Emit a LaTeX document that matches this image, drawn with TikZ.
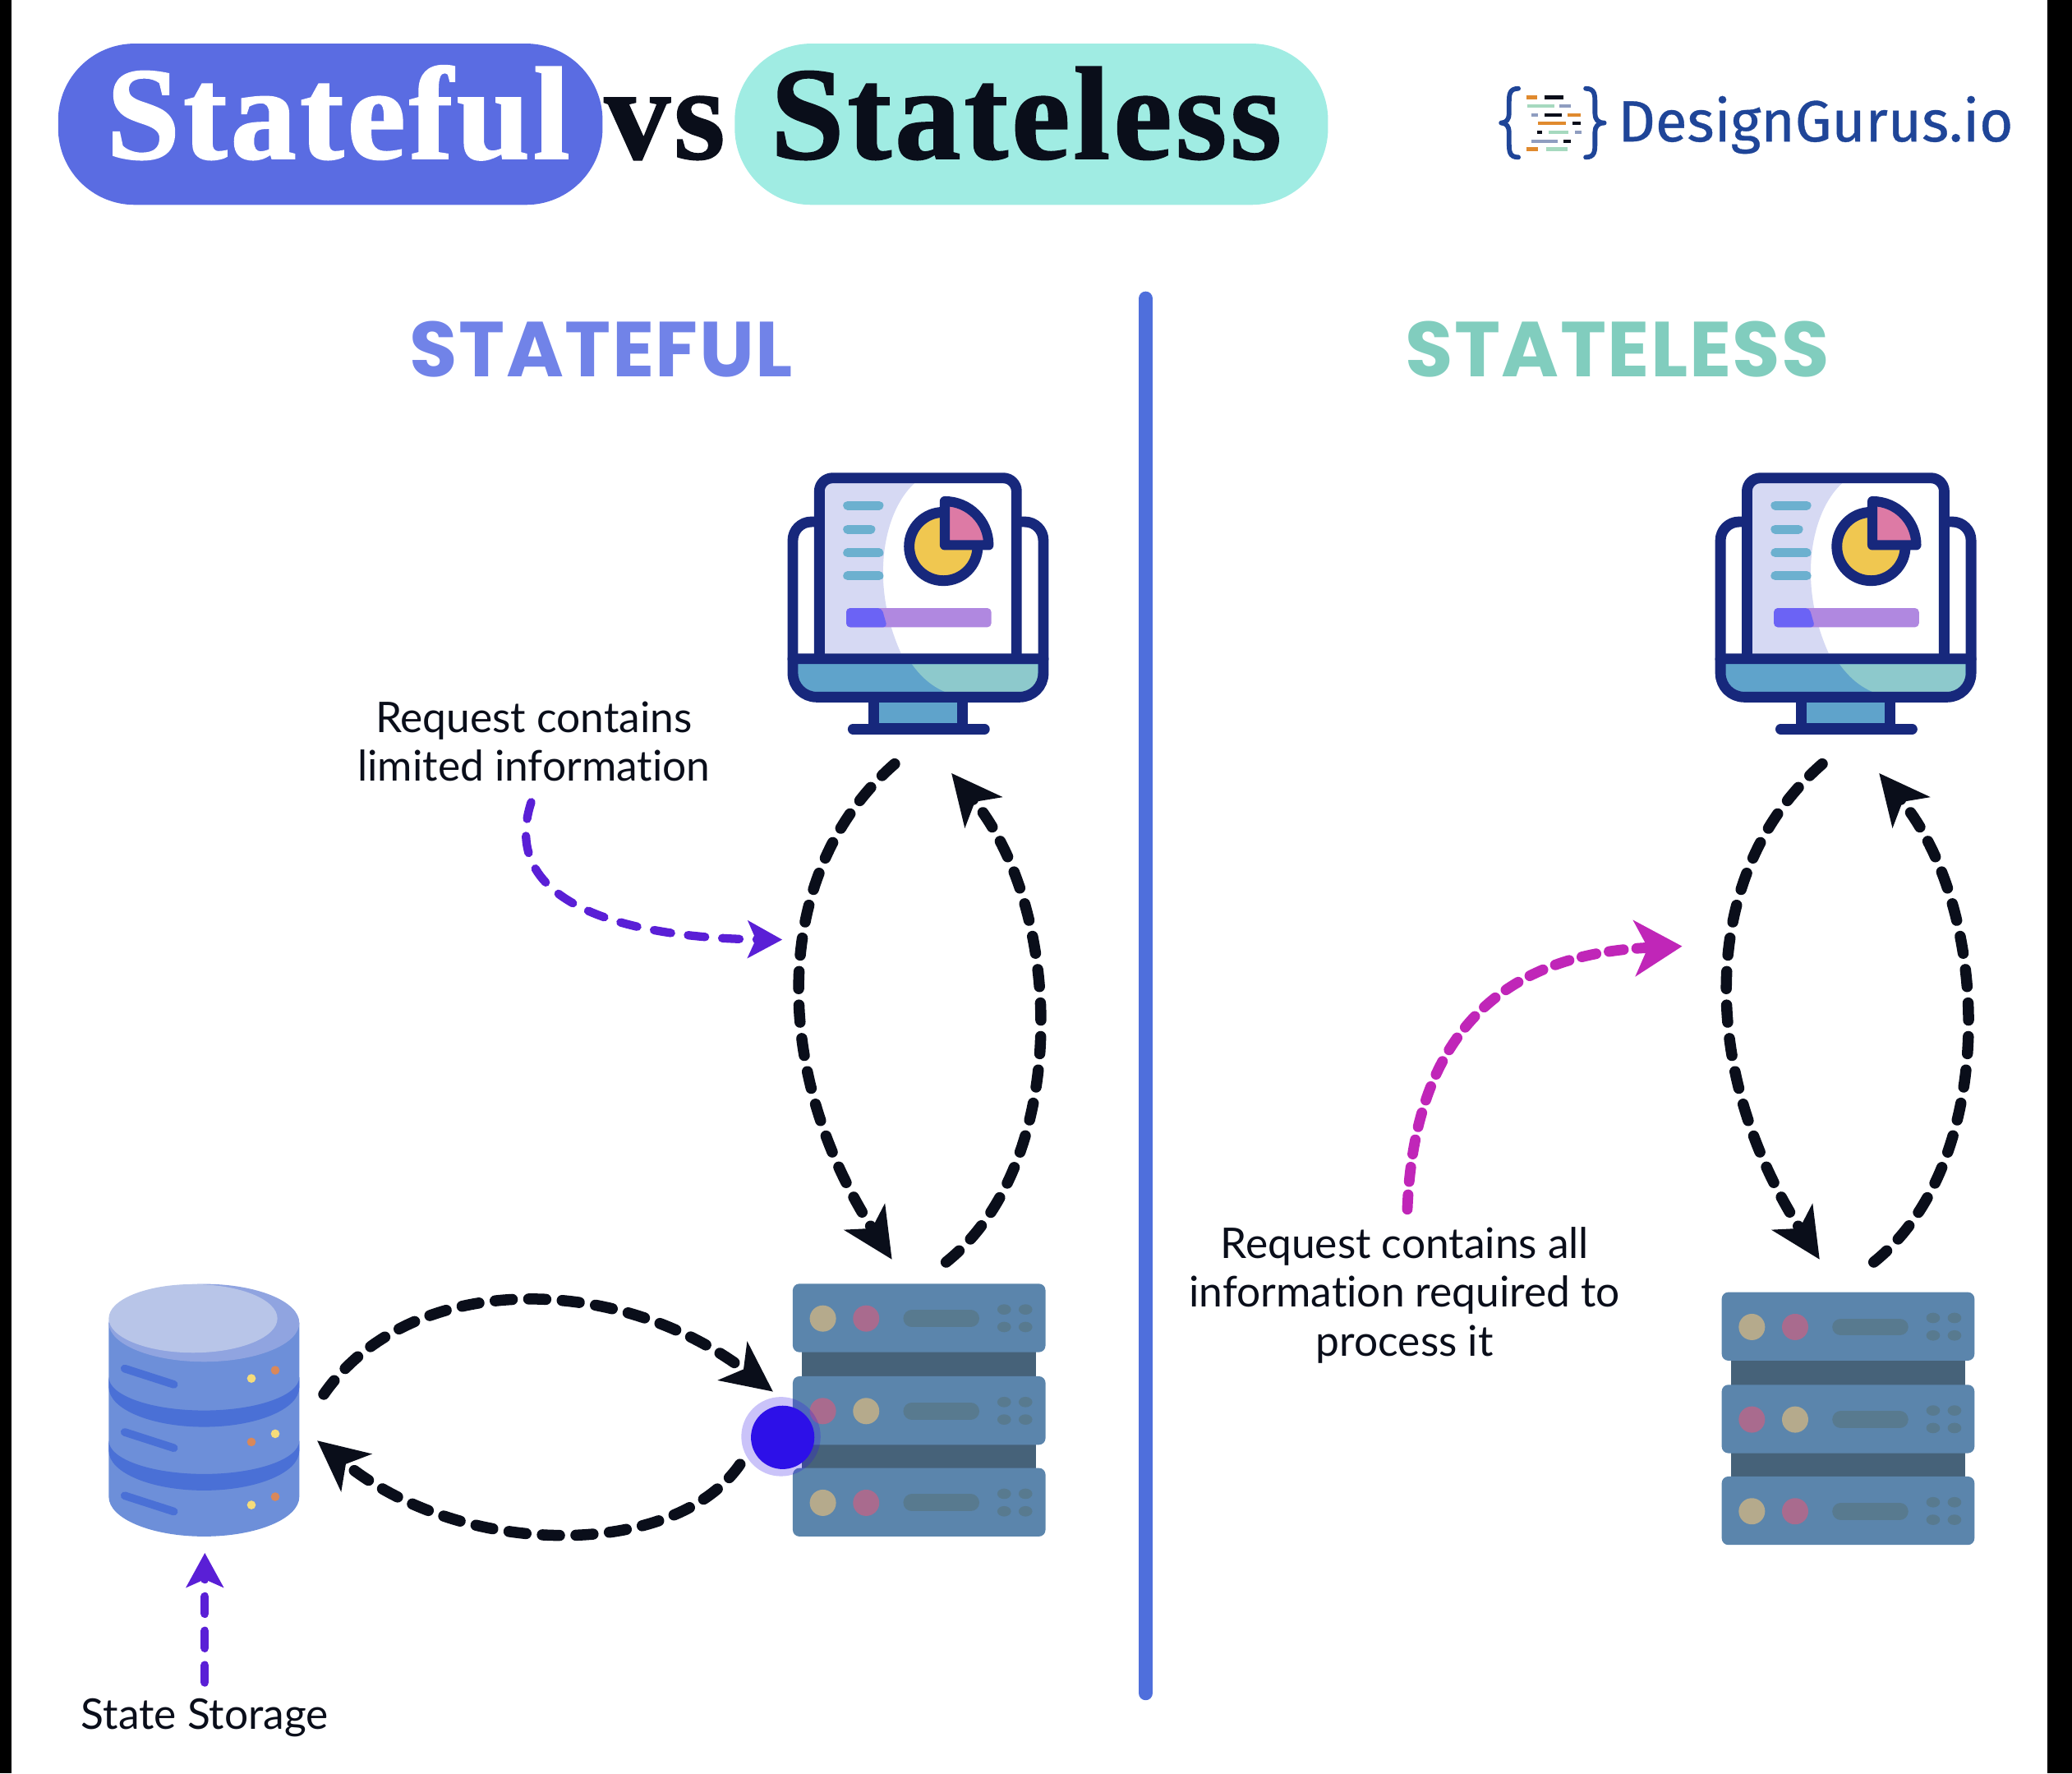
\documentclass[tikz,border=0pt]{standalone}
\usepackage{fontspec}
\usetikzlibrary{positioning,arrows.meta}
\setmainfont[Ligatures=NoCommon]{Lato}
\newfontfamily\titlefont[FakeBold=1.2,LetterSpace=2.5]{Liberation Serif}
\newfontfamily\headfont[LetterSpace=1.5]{Poppins}
\newfontfamily\logofont[FakeBold=0.5]{Fira Sans}

\definecolor{pillblue}{HTML}{5A6CE2}
\definecolor{pillteal}{HTML}{A0ECE3}
\definecolor{inkblack}{HTML}{0A0E1A}
\definecolor{headblue}{HTML}{7183E8}
\definecolor{headteal}{HTML}{81CDBE}
\definecolor{dividerblue}{HTML}{4F6FDC}
\definecolor{logoblue}{HTML}{1F4598}
\definecolor{lognavy}{HTML}{17287C}
\definecolor{screenlav}{HTML}{D6D9F3}
\definecolor{basesky}{HTML}{5FA3CB}
\definecolor{baseteal}{HTML}{8DC9CC}
\definecolor{listsky}{HTML}{6CB0CF}
\definecolor{pieyellow}{HTML}{F0C750}
\definecolor{piepink}{HTML}{DD7AA5}
\definecolor{barviolet}{HTML}{6B63F5}
\definecolor{barlilac}{HTML}{B088E0}
\definecolor{rackblue}{HTML}{5B85AC}
\definecolor{rackdark}{HTML}{466279}
\definecolor{racktan}{HTML}{B5AA8C}
\definecolor{rackpink}{HTML}{A96B8E}
\definecolor{rackslot}{HTML}{587A8F}
\definecolor{dbbody}{HTML}{6D8FD9}
\definecolor{dbband}{HTML}{4A70D6}
\definecolor{dbtop}{HTML}{B8C5E8}
\definecolor{dbrim}{HTML}{90A4E0}
\definecolor{dbyellow}{HTML}{F5DC7A}
\definecolor{dborange}{HTML}{D9885A}
\definecolor{notepurple}{HTML}{5A1FD6}
\definecolor{notemagenta}{HTML}{C026B8}
\definecolor{dotblue}{HTML}{2D10E8}
\definecolor{codeorange}{HTML}{E08A2E}
\definecolor{codegreen}{HTML}{A6D9BF}
\definecolor{codeslate}{HTML}{8F9DC0}

\tikzset{
    pill/.style={rounded corners=29pt, inner sep=0pt, minimum height=61pt, text height=33pt, text depth=7pt, font=\titlefont\bfseries\fontsize{50}{50}\selectfont},
    heading/.style={font=\headfont\bfseries\fontsize{29.5}{29.5}\selectfont},
    note/.style={align=center, text=inkblack, font=\fontsize{16}{18.5}\selectfont},
    flow/.style={inkblack, line width=4.2pt, line cap=round, dash pattern=on 6.5pt off 6.2pt, -{Stealth[length=19pt,width=18pt,inset=5pt]}},
    hintline/.style={notepurple, line width=3.2pt, line cap=round, dash pattern=on 6.5pt off 6.5pt, -{Stealth[length=13pt,width=14pt,inset=3pt]}},
    hintbold/.style={notemagenta, line width=4pt, line cap=round, dash pattern=on 5.5pt off 5pt, -{Stealth[length=18pt,width=21pt,inset=5pt]}},
    pics/monitor/.style={code={
        \begin{scope}[scale=0.2072, line join=round]
            % Side arms
            \draw[lognavy, line width=4pt, rounded corners=7pt] (222,255) -- (135,255) -- (135,760);
            \draw[lognavy, line width=4pt, rounded corners=7pt] (962,255) -- (1050,255) -- (1050,760);
            % Screen
            \fill[white, rounded corners=5pt] (232,95) rectangle (952,755);
            \fill[screenlav] (240,105) -- (590,105) .. controls (470,200) and (410,470) .. (530,735) -- (240,735) -- cycle;
            \foreach \w/\y in {465/195, 435/282, 465/368, 465/452}
                \draw[listsky, line width=3.4pt, line cap=round] (335,\y) -- (\w-15,\y);
            \fill[barlilac, rounded corners=1.5pt] (330,570) rectangle (860,640);
            \fill[barviolet, rounded corners=1.5pt] (330,570) -- (460,570) -- (480,640) -- (330,640) -- cycle;
            \draw[lognavy, line width=4pt, rounded corners=5pt] (232,755) -- (232,95) -- (952,95) -- (952,755);
            % Pie chart
            \draw[lognavy, line width=4pt, fill=pieyellow] (685,345) circle (125);
            \draw[lognavy, line width=3.8pt, fill=piepink] (690,340) -- (690,180) arc[start angle=-90, end angle=0, radius=160] -- cycle;
            % Base
            \fill[basesky, rounded corners=9pt] (135,755) -- (135,895) -- (1050,895) [sharp corners] -- (1050,755) -- cycle;
            \fill[baseteal] (570,775) .. controls (610,830) and (650,860) .. (700,880) -- (1030,880) -- (1030,775) -- cycle;
            \draw[lognavy, line width=4pt, rounded corners=9pt] (135,755) -- (135,895) -- (1050,895) [sharp corners] -- (1050,755) -- cycle;
            % Stand
            \draw[lognavy, line width=4pt, fill=basesky] (430,895) rectangle (755,1010);
            \draw[lognavy, line width=4pt, line cap=round] (355,1012) -- (835,1012);
        \end{scope}
    }},
    pics/rack/.style={code={
        \begin{scope}[scale=0.2072]
            % Links between the units
            \fill[rackdark] (288,430) rectangle (1143,530);
            \fill[rackdark] (288,770) rectangle (1143,865);
            % Units
            \foreach \y/\ca/\cb in {187/racktan/rackpink, 525/rackpink/racktan, 860/racktan/rackpink} {
                \fill[rackblue, rounded corners=2.5pt] (255,\y) rectangle (1178,\y+250);
                \fill[\ca] (365,\y+127) circle (48);
                \fill[\cb] (523,\y+127) circle (48);
                \draw[rackslot, line width=6.5pt, line cap=round] (690,\y+127) -- (905,\y+127);
                \foreach \x in {1027,1105}
                    \foreach \dy in {94,158}
                        \fill[rackslot] (\x,\y+\dy) ellipse[x radius=25, y radius=19];
            }
        \end{scope}
    }},
    pics/database/.style={code={
        \begin{scope}[scale=0.2072]
            % Drum
            \fill[dbbody] (97,270) -- (97,905) arc[start angle=180, end angle=0, x radius=348, y radius=145] -- (793,270) -- cycle;
            % Rims and tags
            \foreach \dy in {0,232} {
                \fill[dbband] (97,468+\dy) arc[start angle=180, end angle=0, x radius=348, y radius=122] -- (793,505+\dy) arc[start angle=0, end angle=180, x radius=348, y radius=145] -- cycle;
            }
            \foreach \dy in {0,232,464}
                \draw[dbband, line width=3pt, line cap=round] (155,437+\dy) -- (335,495+\dy);
            % Lights
            \foreach \x/\y/\c in {618/473/dbyellow, 705/443/dborange, 618/705/dborange, 705/675/dbyellow, 618/935/dbyellow, 705/905/dborange}
                \fill[\c] (\x,\y) circle (16);
            % Lid
            \fill[dbrim] (445,270) ellipse[x radius=348, y radius=142];
            \fill[dbtop] (405,254) ellipse[x radius=308, y radius=125];
        \end{scope}
    }}
}

\begin{document}
\begin{tikzpicture}[x=0.5pt, y=-0.5pt]
    \useasboundingbox (0,0) rectangle (1568,1341.7);

    % Side bars
    \fill[black] (0,0) rectangle (8.7,1341.7);
    \fill[black] (1549.4,0) rectangle (1568,1341.7);

    % Title
    \node[pill, fill=pillblue, text=white, minimum width=206pt] (titleful) at (250,94) {\kern6pt Stateful};
    \node[pill, fill=pillteal, text=inkblack, minimum width=224.5pt] (titleless) at (780.5,94) {Stateless\kern4pt};
    \node[anchor=base, inner sep=0pt, text=inkblack, font=\titlefont\bfseries\fontsize{50}{50}\selectfont] (titlevs) at (503,120) {vs};

    % Logo
    \node[anchor=base west, inner sep=0pt, text=logoblue, font=\logofont\fontsize{22}{22}\selectfont] (logotext) at (1224,107) {DesignGurus.io};
    \draw[logoblue, line width=1.8pt, line cap=round, line join=round] (1149,67) .. controls (1142,67) and (1142,72) .. (1142,78) -- (1142,86) .. controls (1142,90) and (1140,93) .. (1136,93) .. controls (1140,93) and (1142,96) .. (1142,100) -- (1142,108) .. controls (1142,114) and (1142,119) .. (1149,119);
    \draw[logoblue, line width=1.8pt, line cap=round, line join=round] (1200,67) .. controls (1207,67) and (1207,72) .. (1207,78) -- (1207,86) .. controls (1207,90) and (1209,93) .. (1214,93) .. controls (1209,93) and (1207,96) .. (1207,100) -- (1207,108) .. controls (1207,114) and (1207,119) .. (1200,119);
    \foreach \xa/\xb/\y/\c in {1155/1163/73.6/codeorange, 1169/1183/73.6/inkblack, 1156/1176/80.2/codegreen, 1180/1189/80.2/codeslate,
        1159/1164/87/codeslate, 1169/1182/87/inkblack, 1186/1196/87/codeorange, 1164/1185/93.2/codeorange, 1190/1196/93.2/inkblack,
        1163/1167/100/inkblack, 1172/1187/100/codegreen, 1192/1197/100/codeslate, 1159/1179/107/codeslate, 1183/1189/107/inkblack,
        1155/1164/113/codeorange, 1170/1186/113/codegreen}
        \draw[\c, line width=1.4pt] (\xa,\y) -- (\xb,\y);

    % Divider
    \draw[dividerblue, line width=5.5pt, line cap=round] (867,226) -- (867,1281);

    % Headings
    \node[heading, text=headblue] (headful) at (455,264) {STATEFUL};
    \node[heading, text=headteal] (headless) at (1224,264) {STATELESS};

    % Icons
    \pic at (572,342) {monitor};
    \pic at (1274,342) {monitor};
    \pic at (547.1,932.6) {rack};
    \pic at (1250.1,939) {rack};
    \pic at (62.2,945) {database};

    % Blue marker on the server
    \fill[dotblue, opacity=0.25] (591,1087) circle (30);
    \fill[dotblue] (592.3,1087.6) circle (24);

    % Requests and responses
    \foreach \dx/\p in {0/L, 702/R} {
        \coordinate (cliout\p) at (677+\dx,578);
        \coordinate (srvin\p) at (675+\dx,953);
        \coordinate (srvout\p) at (716+\dx,955);
        \coordinate (cliin\p) at (720+\dx,585);
        \draw[flow] (cliout\p) .. controls (583+\dx,660) and (583+\dx,810) .. (srvin\p);
        \draw[flow] (srvout\p) .. controls (810+\dx,880) and (806+\dx,690) .. (cliin\p);
    }

    % Server and storage
    \coordinate (dbout) at (245,1055);
    \coordinate (srvgetL) at (585,1053);
    \coordinate (srvputL) at (560,1108);
    \coordinate (dbin) at (240,1090);
    \draw[flow] (dbout) .. controls (310,962) and (465,962) .. (srvgetL);
    \draw[flow] (srvputL) .. controls (510,1180) and (350,1180) .. (dbin);

    % Notes
    \node[note] (notelimited) at (404,561) {Request contains\\limited information};
    \node[note] (notefull) at (1063,980) {Request contains all\\information required to\\process it};
    \node[note] (notestore) at (155,1300) {State Storage};

    \coordinate (hintlimited) at (402,607);
    \coordinate (hintflowL) at (592,711);
    \coordinate (hintfull) at (1065,915);
    \coordinate (hintflowR) at (1273,716);
    \coordinate (hintstore) at (155,1273);
    \coordinate (dbfoot) at (155,1175);
    \draw[hintline] (hintlimited) .. controls (375,690) and (490,710) .. (hintflowL);
    \draw[hintline] (hintstore) -- (dbfoot);
    \draw[hintbold] (hintfull) .. controls (1070,790) and (1130,722) .. (hintflowR);
\end{tikzpicture}
\end{document}
